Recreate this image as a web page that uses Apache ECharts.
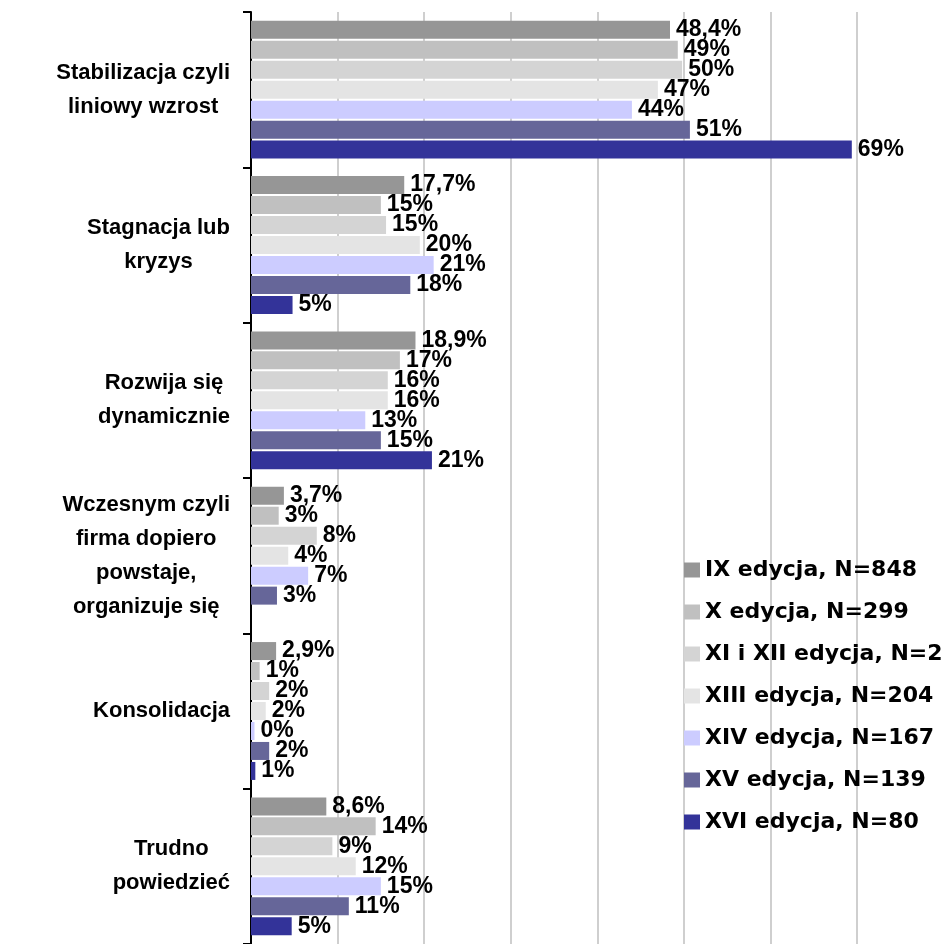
<!DOCTYPE html>
<html>
<head>
<meta charset="utf-8">
<title>Etap rozwoju firmy</title>
<script src="https://cdn.jsdelivr.net/npm/echarts@6/dist/echarts.min.js"></script>
<style>
  html, body { margin: 0; padding: 0; background: #fff; }
  #chart { width: 942px; height: 944px; }
</style>
</head>
<body>
<div id="chart"></div>
<script>
// kategorie (od góry)
const categories = [
  'Stabilizacja czyli\nliniowy wzrost',
  'Stagnacja lub\nkryzys',
  'Rozwija się\ndynamicznie',
  'Wczesnym czyli\nfirma dopiero\npowstaje,\norganizuje się',
  'Konsolidacja',
  'Trudno\npowiedzieć'
]

const seriesNames = [
  'IX edycja, N=848',
  'X edycja, N=299',
  'XI i XII edycja, N=2',
  'XIII edycja, N=204',
  'XIV edycja, N=167',
  'XV edycja, N=139',
  'XVI edycja, N=80'
]

const ixValues = [48.4, 17.7, 19.0, 3.8, 2.9, 8.7]
const xValues = [49.3, 15.0, 17.2, 3.2, 1.0, 14.4]
const xiXiiValues = [49.8, 15.6, 15.8, 7.6, 2.1, 9.4]
const xiiiValues = [47.0, 19.5, 15.8, 4.3, 1.7, 12.1]
const xivValues = [44.0, 21.1, 13.2, 6.6, 0.4, 15.0]
const xvValues = [50.7, 18.4, 15.0, 3.0, 2.1, 11.3]
const xviValues = [69.4, 4.8, 20.9, null, 0.5, 4.7]

// etykiety przy słupkach
const ixLabels = ['48,4%', '17,7%', '18,9%', '3,7%', '2,9%', '8,6%']
const xLabels = ['49%', '15%', '17%', '3%', '1%', '14%']
const xiXiiLabels = ['50%', '15%', '16%', '8%', '2%', '9%']
const xiiiLabels = ['47%', '20%', '16%', '4%', '2%', '12%']
const xivLabels = ['44%', '21%', '13%', '7%', '0%', '15%']
const xvLabels = ['51%', '18%', '15%', '3%', '2%', '11%']
const xviLabels = ['69%', '5%', '21%', '', '1%', '5%']

const colors = ['#969696', '#c0c0c0', '#d4d4d4', '#e4e4e4', '#ccccff', '#666699', '#333399']

const allValues = [ixValues, xValues, xiXiiValues, xiiiValues, xivValues, xvValues, xviValues]
const allLabels = [ixLabels, xLabels, xiXiiLabels, xiiiLabels, xivLabels, xvLabels, xviLabels]

const chart = echarts.init(document.getElementById('chart'))

chart.setOption({
  animation: false,
  backgroundColor: '#ffffff',
  grid: {
    left: 251,
    right: 85,
    top: 12,
    bottom: -4,
    containLabel: false
  },
  legend: {
    orient: 'vertical',
    left: 679,
    top: 553,
    itemWidth: 16,
    itemHeight: 15,
    itemGap: 18,
    icon: 'rect',
    data: seriesNames,
    textStyle: {
      fontFamily: 'DejaVu Sans',
      fontWeight: 'bold',
      fontSize: 22,
      lineHeight: 24,
      color: '#000'
    }
  },
  xAxis: {
    type: 'value',
    min: 0,
    max: 70,
    interval: 10,
    axisLine: { show: false },
    axisTick: { show: false },
    axisLabel: { show: false },
    splitLine: {
      lineStyle: { color: '#cfcfcf', width: 2 }
    }
  },
  yAxis: {
    type: 'category',
    inverse: true,
    data: categories,
    axisLine: {
      show: true,
      lineStyle: { color: '#000', width: 2 }
    },
    axisTick: {
      show: true,
      inside: false,
      alignWithLabel: false,
      length: 8,
      lineStyle: { color: '#000', width: 2 }
    },
    axisLabel: {
      align: 'right',
      margin: 21,
      formatter: (v) => v.split('\n').map((l) => '{c|' + l + '}').join('\n'),
      rich: {
        c: {
          align: 'center',
          fontFamily: 'Liberation Sans, Arial',
          fontWeight: 'bold',
          fontSize: 22,
          lineHeight: 34,
          color: '#000'
        }
      }
    }
  },
  series: seriesNames.map((name, i) => ({
    name: name,
    type: 'bar',
    barWidth: 18,
    barGap: '11%',
    itemStyle: { color: colors[i] },
    label: {
      show: true,
      position: 'right',
      distance: 6,
      fontFamily: 'Liberation Sans, Arial',
      fontWeight: 'bold',
      fontSize: 23,
      color: '#000',
      formatter: (p) => allLabels[i][p.dataIndex]
    },
    data: allValues[i]
  }))
})
</script>
</body>
</html>
